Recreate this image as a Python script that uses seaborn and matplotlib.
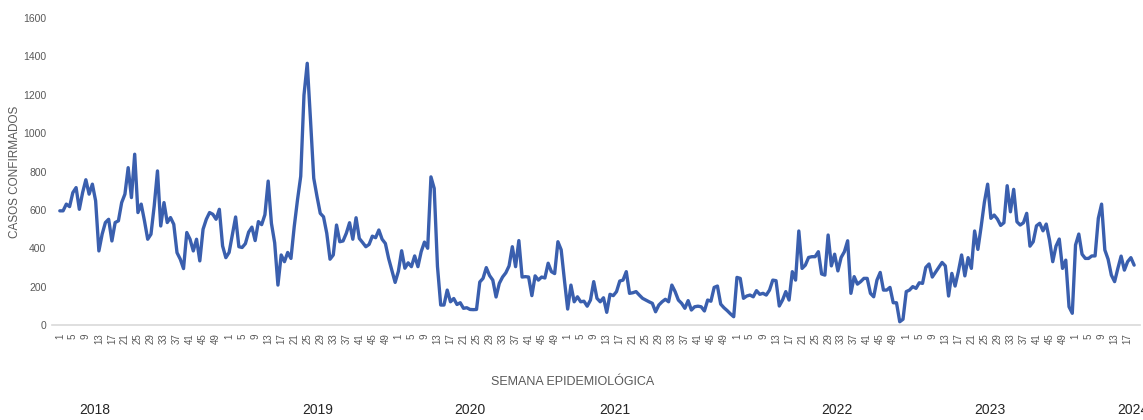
import numpy as np
import pandas as pd
import seaborn as sns
import matplotlib
matplotlib.use("Agg")
import matplotlib.pyplot as plt

sns.set_style("white")
plt.rcParams['font.family'] = ['Liberation Sans Narrow', 'Liberation Sans', 'DejaVu Sans']

# casos confirmados por semana epidemiologica
cases_2018 = [595, 595, 630, 617, 690, 716, 603, 690, 757, 682,
              734, 647, 386, 473, 534, 551, 438, 534, 543, 638,
              682, 820, 664, 890, 586, 630, 543, 447, 473, 621,
              803, 516, 638, 534, 560, 525, 377, 343, 294, 482,
              447, 386, 447, 334, 499, 551, 586, 577, 551, 603,
              412, 351]
cases_2019 = [378, 470, 563, 408, 404, 424, 484, 510, 440, 539,
              523, 575, 750, 530, 428, 208, 365, 330, 378, 347,
              512, 651, 775, 1198, 1364, 1070, 765, 670, 582, 564,
              478, 343, 365, 521, 434, 438, 478, 533, 447, 559,
              451, 430, 408, 420, 463, 455, 495, 447, 425, 347,
              285, 222]
cases_2020 = [280, 387, 296, 324, 304, 360, 304, 382, 432, 400,
              772, 712, 306, 104, 104, 182, 121, 138, 107, 116,
              87, 90, 81, 80, 81, 224, 243, 299, 258, 234,
              146, 217, 250, 272, 308, 408, 304, 440, 250, 252,
              250, 153, 256, 234, 250, 245, 322, 278, 268, 434,
              392, 234]
cases_2021 = [83, 208, 121, 147, 121, 124, 98, 130, 226, 139,
              121, 142, 66, 160, 153, 174, 229, 234, 278, 165,
              168, 174, 156, 139, 130, 121, 113, 69, 104, 121,
              134, 121, 208, 174, 130, 113, 87, 127, 78, 95,
              98, 95, 73, 130, 124, 196, 203, 109, 90, 75,
              58, 43]
cases_2022 = [248, 243, 139, 151, 156, 147, 179, 160, 165, 156,
              182, 234, 231, 99, 130, 174, 130, 278, 234, 490,
              295, 312, 352, 356, 356, 382, 266, 260, 469, 308,
              369, 282, 352, 382, 439, 165, 252, 213, 226, 243,
              243, 165, 147, 234, 274, 182, 182, 196, 116, 116,
              17, 30]
cases_2023 = [174, 182, 200, 191, 220, 217, 300, 318, 250, 275,
              300, 326, 308, 151, 269, 203, 278, 365, 256, 351,
              295, 490, 394, 512, 640, 734, 556, 573, 552, 519,
              533, 726, 590, 707, 538, 521, 533, 582, 411, 434,
              517, 530, 491, 526, 443, 330, 411, 448, 295, 338,
              95, 61]
cases_2024 = [417, 474, 369, 347, 347, 360, 360, 556, 630, 391,
              343, 260, 226, 295, 359, 286, 330, 351, 312]

years = [2018, 2019, 2020, 2021, 2022, 2023, 2024]
series = [cases_2018, cases_2019, cases_2020, cases_2021, cases_2022, cases_2023, cases_2024]

rows = []
for yr, vals in zip(years, series):
    for w, v in enumerate(vals):
        rows.append((yr, w + 1, v))
df = pd.DataFrame(rows, columns=['anio', 'semana', 'casos'])
df['idx'] = np.arange(len(df))

W, H = 1143, 420
fig = plt.figure(figsize=(W / 100, H / 100), dpi=100)
ax = fig.add_axes([52 / W, 95 / H, 1088 / W, 307 / H])

sns.lineplot(data=df, x='idx', y='casos', ax=ax, color='#3a5fae', linewidth=2.4)

ax.set_xlim(-2.4, 331.8)
ax.set_ylim(0, 1600)
ax.set_yticks(range(0, 1601, 200))
ax.tick_params(axis='y', labelsize=7.5, labelcolor='#595959', length=0, pad=4)

tk = df[df['semana'] % 4 == 1]
ax.set_xticks(tk['idx'])
ax.set_xticklabels(tk['semana'], rotation=90, fontsize=7, color='#595959')
ax.tick_params(axis='x', length=0, pad=6)

for s in ['top', 'right', 'left']:
    ax.spines[s].set_visible(False)
ax.spines['bottom'].set_color('#d9d9d9')
ax.spines['bottom'].set_linewidth(1.2)
ax.set_xlabel('')
ax.set_ylabel('')

fig.text(15 / W, 1 - 172 / H, 'CASOS CONFIRMADOS', rotation=90, ha='center', va='center',
         fontsize=8.5, color='#595959', family=['Liberation Sans', 'DejaVu Sans'])
fig.text(573 / W, 1 - 382 / H, 'SEMANA EPIDEMIOLÓGICA', ha='center', va='center',
         fontsize=9, color='#595959')

# etiquetas de año bajo el eje (la última queda recortada en el borde, como en el original)
year_x = [95, 318, 470, 615, 837, 990, 1133]
for yr, xp in zip(years, year_x):
    fig.text(xp / W, 1 - 410 / H, str(yr), ha='center', va='center', fontsize=10, color='#262626')

fig.savefig('out.png', dpi=100)
